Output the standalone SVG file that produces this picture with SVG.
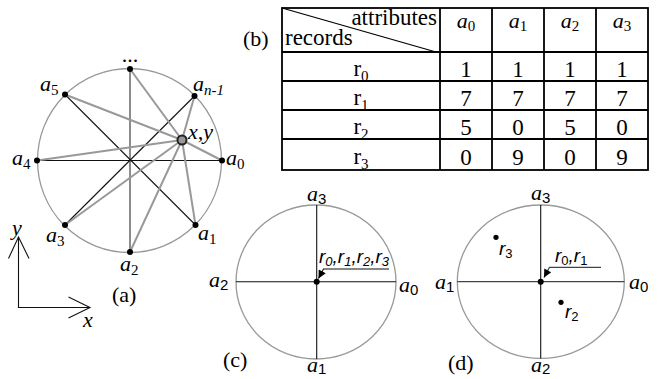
<svg xmlns="http://www.w3.org/2000/svg" width="665" height="379" viewBox="0 0 665 379">
<style>
.ring{fill:none;stroke:#999;stroke-width:1.3}
.blk{stroke:#111;stroke-width:1.1;fill:none}
.vg{stroke:#666;stroke-width:1.5;fill:none}
.gl{stroke:#999;stroke-width:2;fill:none}
.dot{fill:#000}
.tb{stroke:#000;stroke-width:1.8;fill:none}
.ti{font-family:"Liberation Serif",serif;font-style:italic;font-size:22px;fill:#000}
.tr{font-family:"Liberation Serif",serif;font-size:22px;fill:#000}
.tt{font-family:"Liberation Serif",serif;font-size:23px;fill:#000}
.ss{font-family:"Liberation Sans",sans-serif;font-size:15px;font-style:normal}
.si{font-family:"Liberation Serif",serif;font-size:15px}
.sr{font-family:"Liberation Sans",sans-serif;font-style:italic;font-size:19px;fill:#000}
.srs{font-size:13px}
</style>
<defs>
<marker id="ah" viewBox="0 0 10 10" refX="10" refY="5" markerWidth="9" markerHeight="8" markerUnits="userSpaceOnUse" orient="auto">
<path d="M0,0 L10,5 L0,10 z" fill="#000"/>
</marker>
</defs>

<!-- (a) -->
<g id="panel-a">
<circle class="ring" cx="129.5" cy="160.5" r="92"/>
<g id="connectors-a">
<line class="vg" x1="130" y1="69" x2="130" y2="252"/>
<line class="blk" x1="65" y1="94.5" x2="195.5" y2="225"/>
<line class="blk" x1="194.5" y1="96" x2="65" y2="225"/>
<line class="blk" x1="37" y1="160.5" x2="222" y2="160.5"/>
<line class="gl" x1="182" y1="140" x2="130" y2="69"/>
<line class="gl" x1="182" y1="140" x2="65" y2="94.5"/>
<line class="gl" x1="182" y1="140" x2="37" y2="160.5"/>
<line class="gl" x1="182" y1="140" x2="65" y2="225"/>
<line class="gl" x1="182" y1="140" x2="130" y2="252"/>
<line class="gl" x1="182" y1="140" x2="195.5" y2="225"/>
<line class="gl" x1="182" y1="140" x2="222" y2="160.5"/>
<line class="gl" x1="182" y1="140" x2="194.5" y2="96"/>
</g>
<g id="node-top"><circle class="dot" cx="130" cy="69" r="3"/><text class="tr" x="130" y="62" text-anchor="middle" font-size="18">...</text></g>
<g id="node-a5"><circle class="dot" cx="65" cy="94.5" r="3"/><text class="ti" x="40" y="91">a<tspan class="si" font-style="normal" dy="4">5</tspan></text></g>
<g id="node-an1"><circle class="dot" cx="194.5" cy="96" r="3"/><text class="ti" x="193" y="91">a<tspan class="si" font-size="16" dy="4">n-1</tspan></text></g>
<g id="node-a4"><circle class="dot" cx="37" cy="160.5" r="3"/><text class="ti" x="12" y="165">a<tspan class="si" font-style="normal" dy="4">4</tspan></text></g>
<g id="node-a0"><circle class="dot" cx="222" cy="160.5" r="3"/><text class="ti" x="226" y="165">a<tspan class="si" font-style="normal" dy="4">0</tspan></text></g>
<g id="node-a3"><circle class="dot" cx="65" cy="225" r="3"/><text class="ti" x="46" y="242">a<tspan class="si" font-style="normal" dy="4">3</tspan></text></g>
<g id="node-a1"><circle class="dot" cx="195.5" cy="225" r="3"/><text class="ti" x="198" y="240">a<tspan class="si" font-style="normal" dy="4">1</tspan></text></g>
<g id="node-a2"><circle class="dot" cx="130" cy="252" r="3"/><text class="ti" x="120" y="271">a<tspan class="si" font-style="normal" dy="4">2</tspan></text></g>
<g id="node-xy"><circle cx="182" cy="140" r="4.5" fill="#999" stroke="#222" stroke-width="2"/><text class="ti" x="188" y="139">x,y</text></g>
<text class="tr" x="112" y="302">(a)</text>
<g id="axes">
<path class="blk" stroke-width="1.4" d="M18.5,237 V307.5 H90"/>
<path class="blk" stroke-width="1.4" d="M8.5,258.5 L18.5,237 L29,258.5"/>
<path class="blk" stroke-width="1.4" d="M68.5,297 L90,307.5 L68.5,318"/>
<text class="ti" x="12" y="235">y</text>
<text class="ti" x="83" y="327">x</text>
</g>
</g>

<!-- (b) table -->
<g id="table-b">
<rect class="tb" x="282" y="8" width="366" height="162"/>
<path class="tb" d="M282,52 H648 M282,81 H648 M282,110 H648 M282,139 H648 M440,8 V170 M492,8 V170 M544,8 V170 M596,8 V170"/>
<line x1="282" y1="8" x2="436" y2="52" stroke="#000" stroke-width="1.2"/>
<text class="tt" x="437" y="25" text-anchor="end">attributes</text>
<text class="tt" x="285" y="45">records</text>
<text class="tr" x="243" y="46">(b)</text>
<g text-anchor="middle">
<text class="ti" x="466" y="28">a<tspan class="si" font-style="normal" dy="3">0</tspan></text>
<text class="ti" x="518" y="28">a<tspan class="si" font-style="normal" dy="3">1</tspan></text>
<text class="ti" x="570" y="28">a<tspan class="si" font-style="normal" dy="3">2</tspan></text>
<text class="ti" x="622" y="28">a<tspan class="si" font-style="normal" dy="3">3</tspan></text>
<text class="tt" x="361" y="76">r<tspan class="si" dy="5">0</tspan></text>
<text class="tt" x="361" y="105">r<tspan class="si" dy="5">1</tspan></text>
<text class="tt" x="361" y="134">r<tspan class="si" dy="5">2</tspan></text>
<text class="tt" x="361" y="164">r<tspan class="si" dy="5">3</tspan></text>
<text class="tt" x="466" y="77">1</text><text class="tt" x="518" y="77">1</text><text class="tt" x="570" y="77">1</text><text class="tt" x="622" y="77">1</text>
<text class="tt" x="466" y="106">7</text><text class="tt" x="518" y="106">7</text><text class="tt" x="570" y="106">7</text><text class="tt" x="622" y="106">7</text>
<text class="tt" x="466" y="135">5</text><text class="tt" x="518" y="135">0</text><text class="tt" x="570" y="135">5</text><text class="tt" x="622" y="135">0</text>
<text class="tt" x="466" y="165">0</text><text class="tt" x="518" y="165">9</text><text class="tt" x="570" y="165">0</text><text class="tt" x="622" y="165">9</text>
</g>
</g>

<!-- (c) -->
<g id="panel-c">
<ellipse class="ring" cx="316" cy="282" rx="80" ry="77"/>
<line class="blk" x1="236" y1="281.7" x2="396" y2="281.7"/>
<line class="blk" x1="316.7" y1="205" x2="316.7" y2="359"/>
<circle class="dot" cx="316.7" cy="281.7" r="3"/>
<g id="label-c"><text class="sr" x="319" y="263">r<tspan class="srs" dy="3">0</tspan><tspan dy="-3">,r</tspan><tspan class="srs" dy="3">1</tspan><tspan dy="-3">,r</tspan><tspan class="srs" dy="3">2</tspan><tspan dy="-3">,r</tspan><tspan class="srs" dy="3">3</tspan></text>
<path class="blk" d="M389,269 H323.5 L318.5,278.5" marker-end="url(#ah)"/></g>
<text class="ti" x="307" y="201">a<tspan class="ss" dy="3">3</tspan></text>
<text class="ti" x="209" y="287">a<tspan class="ss" dy="3">2</tspan></text>
<text class="ti" x="399" y="292">a<tspan class="ss" dy="3">0</tspan></text>
<text class="ti" x="307" y="372">a<tspan class="ss" dy="2">1</tspan></text>
<text class="tr" x="223" y="367">(c)</text>
</g>

<!-- (d) -->
<g id="panel-d">
<ellipse class="ring" cx="540.8" cy="281.7" rx="83.5" ry="76.7"/>
<line x1="457.3" y1="281.7" x2="624.3" y2="281.7" stroke="#444" stroke-width="1.3"/>
<line class="blk" x1="540.7" y1="205" x2="540.7" y2="358.4"/>
<circle class="dot" cx="540.7" cy="281.7" r="3"/>
<g id="node-r3"><circle class="dot" cx="496" cy="237.3" r="2.6"/><text class="sr" x="499" y="255">r<tspan class="srs" font-style="normal" dy="3">3</tspan></text></g>
<g id="node-r2"><circle class="dot" cx="561" cy="302.3" r="2.6"/><text class="sr" x="565" y="318">r<tspan class="srs" font-style="normal" dy="3">2</tspan></text></g>
<g id="label-d"><text class="sr" x="555" y="261.5">r<tspan class="srs" font-style="normal" dy="3">0</tspan><tspan dy="-3">,r</tspan><tspan class="srs" font-style="normal" dy="3">1</tspan></text>
<path d="M601,267.3 H549.5 L544,277.5" fill="none" stroke="#444" stroke-width="1.3" marker-end="url(#ah)"/></g>
<text class="ti" x="531" y="200">a<tspan class="ss" dy="3">3</tspan></text>
<text class="ti" x="435" y="289">a<tspan class="ss" dy="3">1</tspan></text>
<text class="ti" x="629" y="289">a<tspan class="ss" dy="3">0</tspan></text>
<text class="ti" x="531" y="372">a<tspan class="ss" dy="2">2</tspan></text>
<text class="tr" x="448" y="370">(d)</text>
</g>
</svg>
